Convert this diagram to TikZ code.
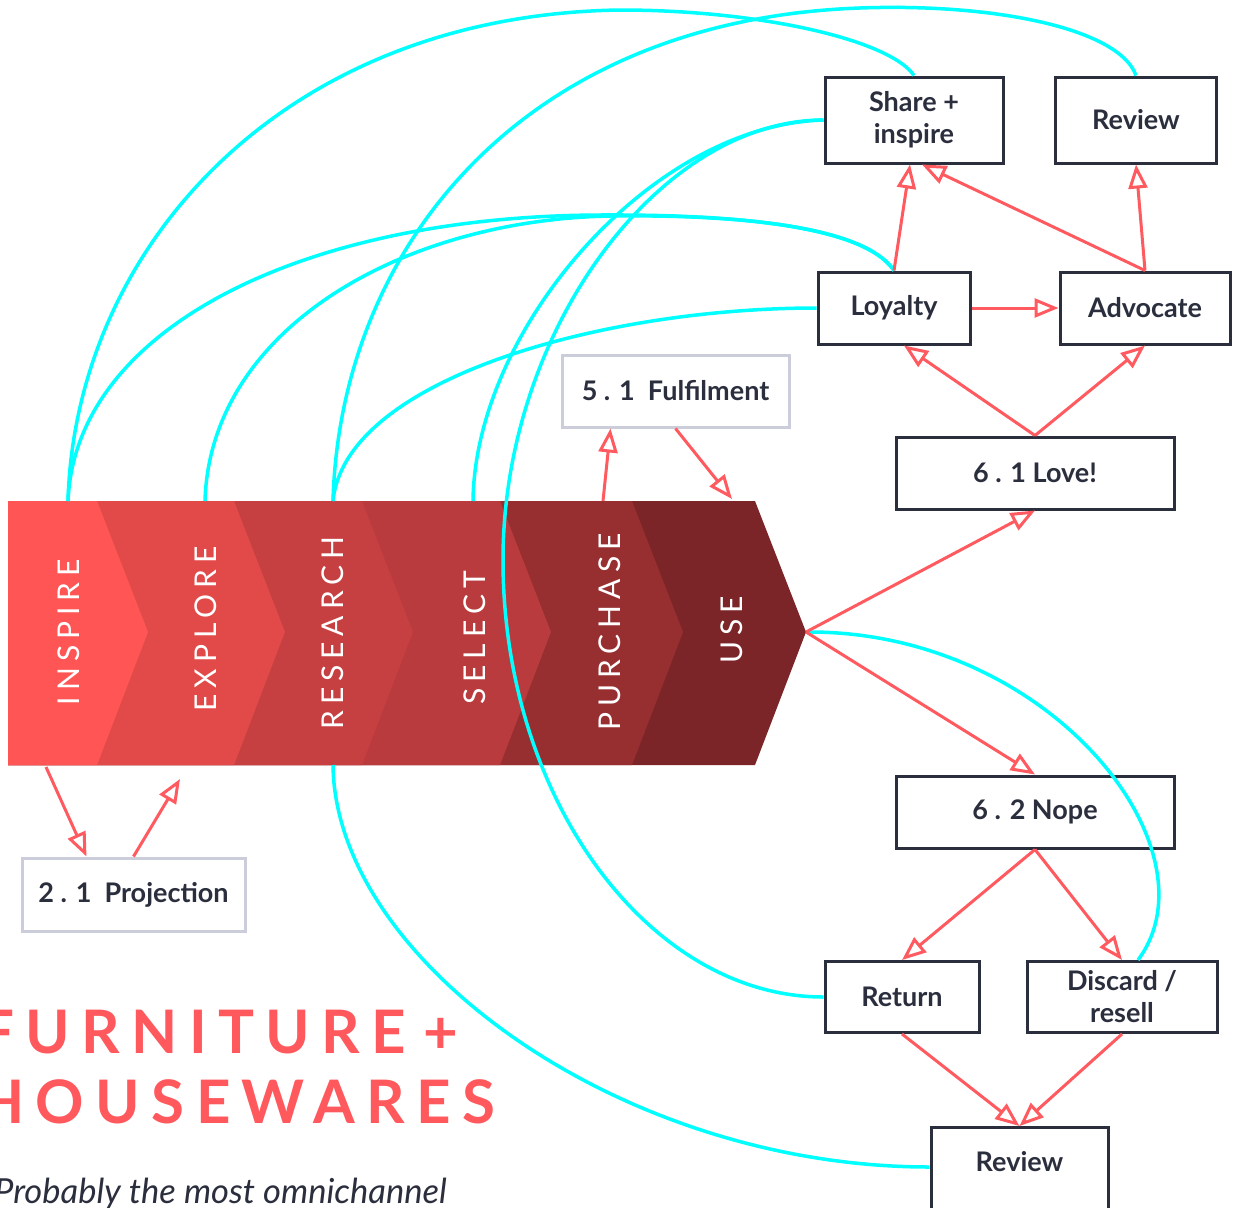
\documentclass[tikz,border=0pt]{standalone}
\usepackage{fontspec}
\setmainfont{Lato}
\newfontfamily\stagefont[LetterSpace=20]{Lato}
\newfontfamily\titlefont[LetterSpace=19]{Lato}
\usetikzlibrary{arrows.meta, positioning}

\definecolor{inspireC}{HTML}{FF5555}
\definecolor{exploreC}{HTML}{E24A4A}
\definecolor{researchC}{HTML}{C63F41}
\definecolor{selectC}{HTML}{B93B3D}
\definecolor{purchaseC}{HTML}{972E30}
\definecolor{useC}{HTML}{7C2528}
\definecolor{flowred}{HTML}{FF5A5F}
\definecolor{linkcyan}{HTML}{00FFFF}
\definecolor{boxline}{HTML}{2B2E3D}
\definecolor{softline}{HTML}{CBCDDA}
\definecolor{ink}{HTML}{2B2E3D}
\definecolor{titlered}{HTML}{FF585D}

\tikzset{
  stagetext/.style={rotate=90, text=white, inner sep=0pt, font=\stagefont\fontsize{30}{30}\selectfont},
  phasebox/.style={draw=boxline, line width=3pt, fill=white, text=ink, align=center, inner sep=0pt, font=\bfseries\fontsize{27}{32}\selectfont},
  softbox/.style={phasebox, draw=softline},
  flowarrow/.style={flowred, line width=3pt, -{Triangle[open, length=24pt, width=19pt]}},
  cyanlink/.style={linkcyan, line width=3.5pt},
}

\begin{document}
\begin{tikzpicture}[x=1pt, y=-1pt]
  \useasboundingbox (0,0) rectangle (1235,1208);

  % chevron band, drawn from the right
  \foreach \tip/\col in {806/useC, 683/purchaseC, 551/selectC, 413/researchC, 285/exploreC, 148/inspireC}
    \fill[\col] (8,501) -- (\tip-51,501) -- (\tip,632) -- (\tip-51,765) -- (8,765) -- cycle;

  \foreach \x/\y/\name/\txt in {69/632/inspire/INSPIRE, 206/629/explore/EXPLORE, 333/633/research/RESEARCH,
                               475/638/select/SELECT, 610/632/purchase/PURCHASE, 732/630/use/USE}
    \node[stagetext] (\name) at (\x,\y) {\txt};

  \coordinate (inspire top) at (68,501);
  \coordinate (explore top) at (205,501);
  \coordinate (research top) at (333,501);
  \coordinate (select top) at (473,501);
  \coordinate (purchase top) at (603,501);
  \coordinate (use top) at (732,499);
  \coordinate (use tip) at (806,632);
  \coordinate (inspire bottom) at (46,767);
  \coordinate (explore bottom) at (180,779);
  \coordinate (research bottom) at (333,765);

  % boxes
  \node[phasebox, minimum width=178pt, minimum height=86pt] (share) at (914,120) {Share +\\inspire};
  \node[phasebox, minimum width=161pt, minimum height=86pt] (review) at (1136,120) {Review};
  \node[phasebox, minimum width=152pt, minimum height=72pt] (loyalty) at (894,308) {Loyalty};
  \node[phasebox, minimum width=170pt, minimum height=72pt] (advocate) at (1145,308) {Advocate};
  \node[phasebox, minimum width=278pt, minimum height=72pt] (love) at (1035,473) {6 . 1 Love!};
  \node[phasebox, minimum width=278pt, minimum height=72pt] (nope) at (1035,812) {6 . 2 Nope};
  \node[phasebox, minimum width=154pt, minimum height=71pt] (return) at (902,997) {Return};
  \node[phasebox, minimum width=190pt, minimum height=71pt] (discard) at (1122,997) {Discard /\\resell};
  \node[phasebox, anchor=north, minimum width=177pt, inner ysep=16pt, text height=28pt, text depth=110pt] (back) at (1019.5,1126) {Review};
  \node[softbox, minimum width=227pt, minimum height=72pt] (fulfil) at (675.5,391) {5 . 1 \ Fulfilment};
  \node[softbox, minimum width=223pt, minimum height=73pt] (projection) at (133.5,894.5) {2 . 1 \ Projection};

  % cyan links
  \draw[cyanlink] (inspire top) .. controls (75,250) and (280,15) .. (620,10) .. controls (760,10) and (890,40) .. (share.north);
  \draw[cyanlink] (inspire top) .. controls (75,330) and (300,216) .. (600,215) .. controls (780,214) and (870,235) .. (loyalty.north);
  \draw[cyanlink] (explore top) .. controls (210,330) and (400,220) .. (610,216) .. controls (780,214) and (870,235) .. (loyalty.north);
  \draw[cyanlink] (research top) .. controls (340,250) and (520,20) .. (860,8) .. controls (1000,3) and (1120,30) .. (review.north);
  \draw[cyanlink] (research top) .. controls (345,380) and (600,308) .. (loyalty.west);
  \draw[cyanlink] (select top) .. controls (475,330) and (650,125) .. (share.west);
  \draw[cyanlink] (share.west) .. controls (660,120) and (503,330) .. (503,560) .. controls (503,800) and (650,997) .. (return.west);
  \draw[cyanlink] (research bottom) .. controls (335,960) and (620,1167) .. ([yshift=-41pt]back.north west);
  \draw[cyanlink] (use tip) .. controls (1050,630) and (1220,850) .. ([xshift=16pt]discard.north);

  % red flows
  \draw[flowarrow] (loyalty.north) -- ([xshift=-4pt]share.south);
  \draw[flowarrow] (advocate.north) -- ([xshift=8pt]share.south);
  \draw[flowarrow] (advocate.north) -- (review.south);
  \draw[flowarrow] (loyalty.east) -- (advocate.west);
  \draw[flowarrow] (love.north) -- ([xshift=10pt]loyalty.south);
  \draw[flowarrow] (love.north) -- (advocate.south);
  \draw[flowarrow] (use tip) -- (love.south);
  \draw[flowarrow] (use tip) -- (nope.north);
  \draw[flowarrow] (nope.south) -- (return.north);
  \draw[flowarrow] (nope.south) -- (discard.north);
  \draw[flowarrow] (return.south) -- (back.north);
  \draw[flowarrow] (discard.south) -- (back.north);
  \draw[flowarrow] (purchase top) -- ([xshift=-65pt]fulfil.south);
  \draw[flowarrow] (fulfil.south) -- (use top);
  \draw[flowarrow] (inspire bottom) -- ([xshift=-47pt]projection.north);
  \draw[flowarrow] (projection.north) -- (explore bottom);

  % title
  \node[anchor=base west, inner sep=0pt, text=titlered, font=\titlefont\bfseries\fontsize{60}{60}\selectfont] (title top) at (-20,1053) {FURNITURE\hspace{17pt}+};
  \node[anchor=base west, inner sep=0pt, text=titlered, font=\titlefont\bfseries\fontsize{60}{60}\selectfont] (title bottom) at (-22,1123) {HOUSEWARES};
  \node[anchor=base west, inner sep=0pt, text=ink, font=\itshape\fontsize{34.5}{34.5}\selectfont] (tagline) at (-6,1203) {Probably the most omnichannel};
\end{tikzpicture}
\end{document}
